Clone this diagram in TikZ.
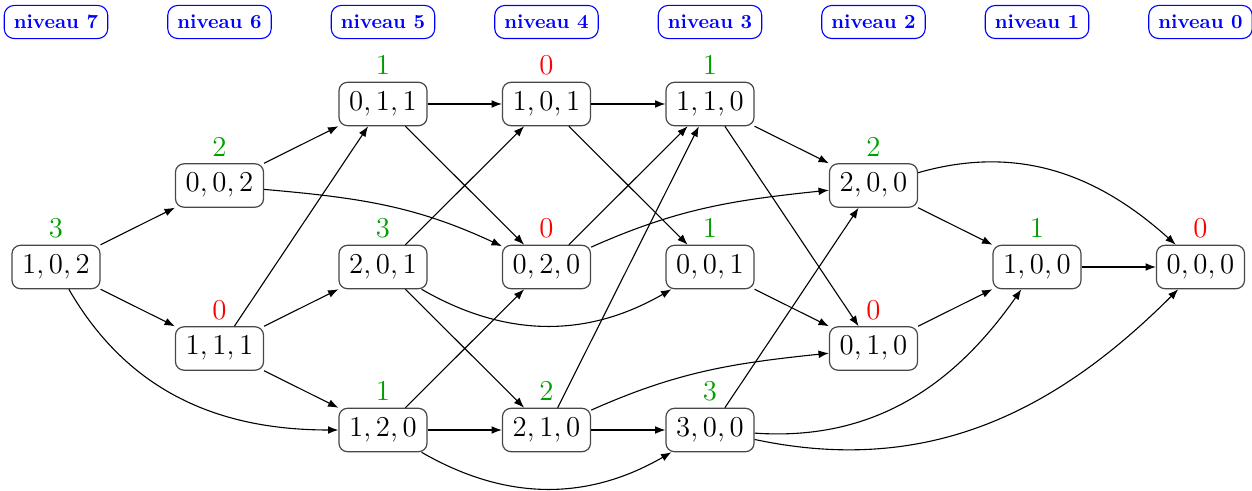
\documentclass[tikz,border=0pt]{standalone}
\usetikzlibrary{arrows.meta}
\definecolor{lvlgreen}{rgb}{0,0.62,0}
\begin{document}
\begin{tikzpicture}[x=0.5pt,y=-0.5pt,
  state/.style={draw=black!72, line width=0.6pt, rounded corners=4.2pt, inner sep=4.8pt,
    font=\Large, minimum width=44pt, label distance=0.7pt},
  lvl/.style={draw=blue, text=blue, line width=0.55pt, rounded corners=5pt, font=\bfseries, inner sep=4.8pt},
  gl/.style={text=lvlgreen, font=\Large},
  rl/.style={text=red, font=\Large},
  e/.style={-{Latex[length=5.2pt,width=3.9pt]}, line width=0.55pt}]
\useasboundingbox (0,0) rectangle (1252,491);
% level labels
\node[lvl] (l7) at (56,22) {niveau 7};
\node[lvl] (l6) at (219.5,22) {niveau 6};
\node[lvl] (l5) at (383,22) {niveau 5};
\node[lvl] (l4) at (546.5,22) {niveau 4};
\node[lvl] (l3) at (710,22) {niveau 3};
\node[lvl] (l2) at (873.5,22) {niveau 2};
\node[lvl] (l1) at (1037,22) {niveau 1};
\node[lvl] (l0) at (1200.5,22) {niveau 0};
% states
\node[state, label={[gl]above:$3$}] (n102) at (56,267) {$1,0,2$};
\node[state, label={[gl]above:$2$}] (n002) at (219.5,185.5) {$0,0,2$};
\node[state, label={[rl]above:$0$}] (n111) at (219.5,348.5) {$1,1,1$};
\node[state, label={[gl]above:$1$}] (n011) at (383,104) {$0,1,1$};
\node[state, label={[gl]above:$3$}] (n201) at (383,267) {$2,0,1$};
\node[state, label={[gl]above:$1$}] (n120) at (383,430) {$1,2,0$};
\node[state, label={[rl]above:$0$}] (n101) at (546.5,104) {$1,0,1$};
\node[state, label={[rl]above:$0$}] (n020) at (546.5,267) {$0,2,0$};
\node[state, label={[gl]above:$2$}] (n210) at (546.5,430) {$2,1,0$};
\node[state, label={[gl]above:$1$}] (n110) at (710,104) {$1,1,0$};
\node[state, label={[gl]above:$1$}] (n001) at (710,267) {$0,0,1$};
\node[state, label={[gl]above:$3$}] (n300) at (710,430) {$3,0,0$};
\node[state, label={[gl]above:$2$}] (n200) at (873.5,185.5) {$2,0,0$};
\node[state, label={[rl]above:$0$}] (n010) at (873.5,348.5) {$0,1,0$};
\node[state, label={[gl]above:$1$}] (n100) at (1037,267) {$1,0,0$};
\node[state, label={[rl]above:$0$}] (n000) at (1200.5,267) {$0,0,0$};
% edges
\draw[e] (n102) -- (n002);
\draw[e] (n102) -- (n111);
\draw[e] (n102) to[out=-60,in=180] (n120);
\draw[e] (n002) -- (n011);
\draw[e] (n002) to[out=-5,in=155] (n020);
\draw[e] (n111) -- (n011);
\draw[e] (n111) -- (n201);
\draw[e] (n111) -- (n120);
\draw[e] (n011) -- (n101);
\draw[e] (n011) -- (n020);
\draw[e] (n201) -- (n101);
\draw[e] (n201) -- (n210);
\draw[e] (n201) to[bend right=30] (n001);
\draw[e] (n120) -- (n020);
\draw[e] (n120) -- (n210);
\draw[e] (n120) to[bend right=30] (n300);
\draw[e] (n101) -- (n110);
\draw[e] (n101) -- (n001);
\draw[e] (n020) -- (n110);
\draw[e] (n020) to[out=24,in=186] (n200);
\draw[e] (n210) -- (n110);
\draw[e] (n210) -- (n300);
\draw[e] (n210) to[out=24,in=186] (n010);
\draw[e] (n110) -- (n200);
\draw[e] (n110) -- (n010);
\draw[e] (n001) -- (n010);
\draw[e] (n300) -- (n200);
\draw[e] (n300) to[out=-4,in=235] (n100);
\draw[e] (n300) to[out=-12,in=225] (n000);
\draw[e] (n200) -- (n100);
\draw[e] (n200) to[out=16,in=138] (n000);
\draw[e] (n010) -- (n100);
\draw[e] (n100) -- (n000);
\end{tikzpicture}
\end{document}
